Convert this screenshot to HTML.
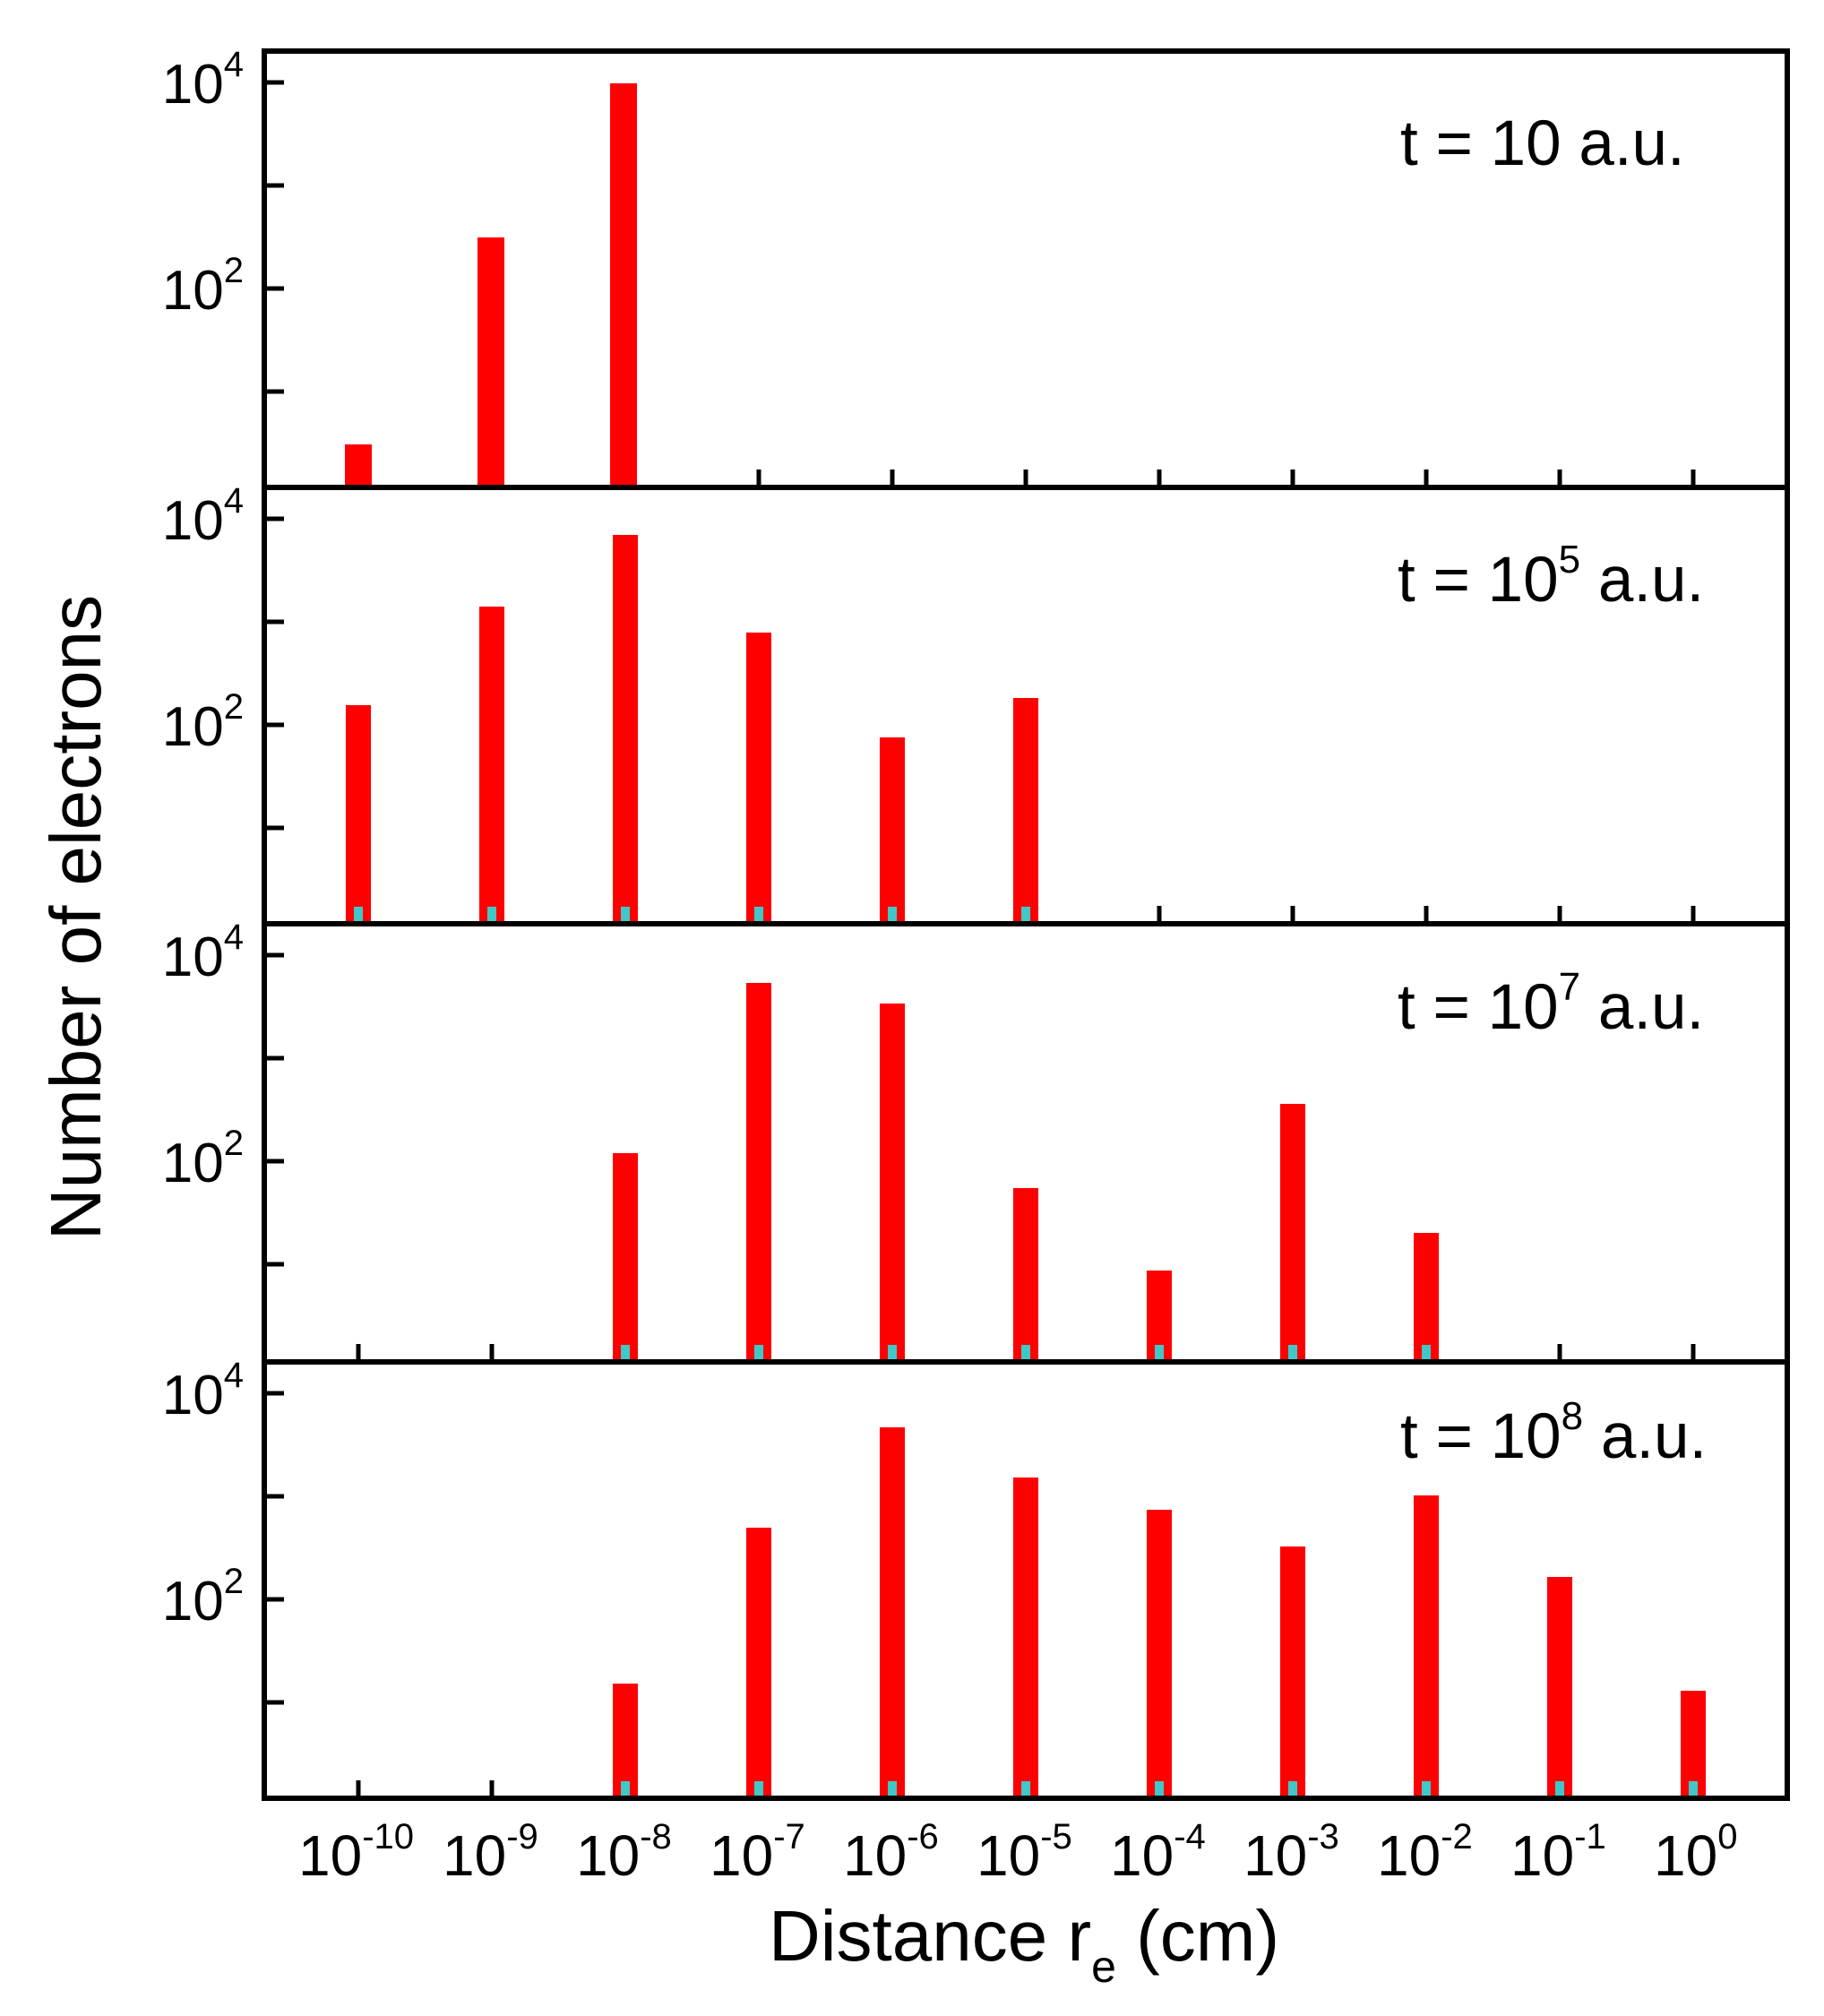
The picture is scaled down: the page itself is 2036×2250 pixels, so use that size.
<!DOCTYPE html>
<html><head><meta charset="utf-8"><style>
html,body{margin:0;padding:0;background:#fff;}
svg{display:block;}
text{font-family:"Liberation Sans",Arial,sans-serif;fill:#000;}
</style></head><body>
<svg width="2036" height="2250" viewBox="0 0 2036 2250" xmlns="http://www.w3.org/2000/svg">
<g stroke="#000" stroke-width="5">
<path d="M295 92h22M295 207h22M295 322h22M295 437h22
M295 579h22M295 694h22M295 809h22M295 924h22
M295 1066h22M295 1181h22M295 1296h22M295 1411h22
M295 1555h22M295 1670h22M295 1785h22M295 1900h22"/>
<path d="M400 544v-20M549 544v-20M698 544v-20M847 544v-20M996 544v-20M1145 544v-20M1294 544v-20M1443 544v-20M1592 544v-20M1741 544v-20M1890 544v-20
M400 1031v-20M549 1031v-20M698 1031v-20M847 1031v-20M996 1031v-20M1145 1031v-20M1294 1031v-20M1443 1031v-20M1592 1031v-20M1741 1031v-20M1890 1031v-20
M400 1520v-20M549 1520v-20M698 1520v-20M847 1520v-20M996 1520v-20M1145 1520v-20M1294 1520v-20M1443 1520v-20M1592 1520v-20M1741 1520v-20M1890 1520v-20
M400 2007v-20M549 2007v-20M698 2007v-20M847 2007v-20M996 2007v-20M1145 2007v-20M1294 2007v-20M1443 2007v-20M1592 2007v-20M1741 2007v-20M1890 2007v-20"/>
</g>
<g id="bars" fill="#ff0000">
<rect x="385" y="496" width="30" height="48"/>
<rect x="533" y="265" width="30" height="279"/>
<rect x="681" y="93" width="30" height="451"/>
<rect x="386" y="787" width="28" height="244"/>
<rect x="535" y="677" width="28" height="354"/>
<rect x="684" y="597" width="28" height="434"/>
<rect x="833" y="706" width="28" height="325"/>
<rect x="982" y="823" width="28" height="208"/>
<rect x="1131" y="779" width="28" height="252"/>
<rect x="684" y="1287" width="28" height="233"/>
<rect x="833" y="1097" width="28" height="423"/>
<rect x="982" y="1120" width="28" height="400"/>
<rect x="1131" y="1326" width="28" height="194"/>
<rect x="1280" y="1418" width="28" height="102"/>
<rect x="1429" y="1232" width="28" height="288"/>
<rect x="1578" y="1376" width="28" height="144"/>
<rect x="684" y="1879" width="28" height="128"/>
<rect x="833" y="1705" width="28" height="302"/>
<rect x="982" y="1593" width="28" height="414"/>
<rect x="1131" y="1649" width="28" height="358"/>
<rect x="1280" y="1685" width="28" height="322"/>
<rect x="1429" y="1726" width="28" height="281"/>
<rect x="1578" y="1669" width="28" height="338"/>
<rect x="1727" y="1760" width="28" height="247"/>
<rect x="1876" y="1887" width="28" height="120"/>
</g>
<g fill="#40c8c8">
<rect x="395" y="1012" width="10" height="19"/><rect x="544" y="1012" width="10" height="19"/><rect x="693" y="1012" width="10" height="19"/><rect x="842" y="1012" width="10" height="19"/><rect x="991" y="1012" width="10" height="19"/><rect x="1140" y="1012" width="10" height="19"/>
<rect x="693" y="1501" width="10" height="19"/><rect x="842" y="1501" width="10" height="19"/><rect x="991" y="1501" width="10" height="19"/><rect x="1140" y="1501" width="10" height="19"/><rect x="1289" y="1501" width="10" height="19"/><rect x="1438" y="1501" width="10" height="19"/><rect x="1587" y="1501" width="10" height="19"/>
<rect x="693" y="1988" width="10" height="19"/><rect x="842" y="1988" width="10" height="19"/><rect x="991" y="1988" width="10" height="19"/><rect x="1140" y="1988" width="10" height="19"/><rect x="1289" y="1988" width="10" height="19"/><rect x="1438" y="1988" width="10" height="19"/><rect x="1587" y="1988" width="10" height="19"/><rect x="1736" y="1988" width="10" height="19"/><rect x="1885" y="1988" width="10" height="19"/>
</g>
<g stroke="#000" stroke-width="6" fill="none">
<rect x="295" y="57" width="1700" height="1950"/>
<line x1="295" y1="544" x2="1995" y2="544"/>
<line x1="295" y1="1031" x2="1995" y2="1031"/>
<line x1="295" y1="1520" x2="1995" y2="1520"/>
</g>
<g font-size="62" text-anchor="end">
<text x="272" y="115">10<tspan font-size="40" dy="-30">4</tspan></text>
<text x="272" y="345">10<tspan font-size="40" dy="-30">2</tspan></text>
<text x="272" y="602">10<tspan font-size="40" dy="-30">4</tspan></text>
<text x="272" y="832">10<tspan font-size="40" dy="-30">2</tspan></text>
<text x="272" y="1089">10<tspan font-size="40" dy="-30">4</tspan></text>
<text x="272" y="1319">10<tspan font-size="40" dy="-30">2</tspan></text>
<text x="272" y="1578">10<tspan font-size="40" dy="-30">4</tspan></text>
<text x="272" y="1808">10<tspan font-size="40" dy="-30">2</tspan></text>
</g>
<g font-size="64">
<text x="333" y="2093">10<tspan font-size="40" dy="-30">-10</tspan></text>
<text x="494" y="2093">10<tspan font-size="40" dy="-30">-9</tspan></text>
<text x="643" y="2093">10<tspan font-size="40" dy="-30">-8</tspan></text>
<text x="792" y="2093">10<tspan font-size="40" dy="-30">-7</tspan></text>
<text x="941" y="2093">10<tspan font-size="40" dy="-30">-6</tspan></text>
<text x="1090" y="2093">10<tspan font-size="40" dy="-30">-5</tspan></text>
<text x="1239" y="2093">10<tspan font-size="40" dy="-30">-4</tspan></text>
<text x="1388" y="2093">10<tspan font-size="40" dy="-30">-3</tspan></text>
<text x="1537" y="2093">10<tspan font-size="40" dy="-30">-2</tspan></text>
<text x="1686" y="2093">10<tspan font-size="40" dy="-30">-1</tspan></text>
<text x="1846" y="2093">10<tspan font-size="40" dy="-30">0</tspan></text>
</g>
<text x="858" y="2188" font-size="80">Distance r<tspan font-size="50" dy="24">e</tspan><tspan dy="-24"> (cm)</tspan></text>
<text transform="translate(112,1024) rotate(-90)" font-size="80" text-anchor="middle">Number of electrons</text>
<g font-size="71">
<text x="1563" y="184">t = 10 a.u.</text>
<text x="1560" y="671">t = 10<tspan font-size="44" dy="-32">5</tspan><tspan dy="32"> a.u.</tspan></text>
<text x="1560" y="1148">t = 10<tspan font-size="44" dy="-32">7</tspan><tspan dy="32"> a.u.</tspan></text>
<text x="1563" y="1627">t = 10<tspan font-size="44" dy="-32">8</tspan><tspan dy="32"> a.u.</tspan></text>
</g>
</svg>
</body></html>
